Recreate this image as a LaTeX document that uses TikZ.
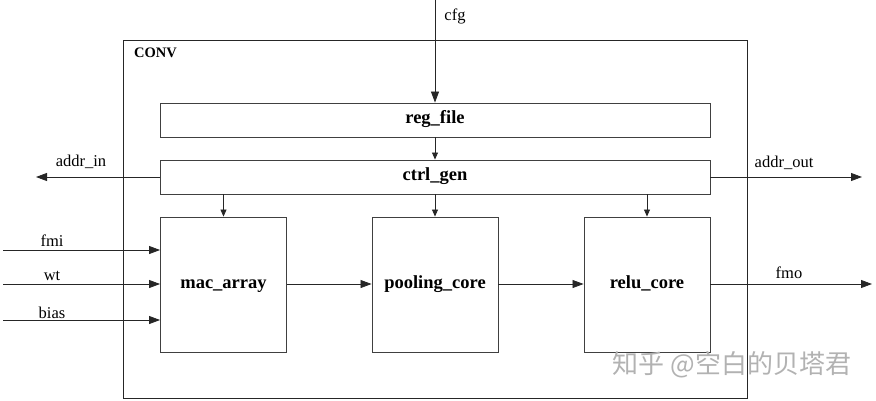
\documentclass[tikz,border=0pt]{standalone}
\usepackage{fontspec}
\setmainfont{Liberation Serif}
\newfontfamily\cjk{Noto Sans CJK SC}
\usetikzlibrary{arrows.meta}
\begin{document}
\begin{tikzpicture}[x=1pt,y=-1pt,
  blk/.style={draw=black!75,line width=0.9pt,inner sep=0pt,text height=0.9em,text depth=0.13em,font=\fontsize{18.5}{20}\selectfont\bfseries},
  sig/.style={draw=black!85,line width=0.8pt,-{Triangle[length=11pt,width=8pt]}},
  small/.style={draw=black!85,line width=0.8pt,-{Triangle[length=7pt,width=6pt]}},
  lab/.style={font=\fontsize{16.5}{18}\selectfont,inner sep=0pt}]
\useasboundingbox (0,0) rectangle (876,400);
\node[draw=black!85,line width=0.9pt,minimum width=624pt,minimum height=358pt,anchor=north west,inner sep=0pt] (conv) at (123,40) {};
\node[anchor=north west,inner sep=0pt,font=\fontsize{14.5}{16}\selectfont\bfseries] (convlab) at (134,48) {CONV};
\node[blk,minimum width=550pt,minimum height=34pt] (reg) at (435,120) {reg\_file};
\node[blk,minimum width=550pt,minimum height=34pt] (ctrl) at (435,177) {ctrl\_gen};
\node[blk,minimum width=126pt,minimum height=135pt] (mac) at (223.5,284.5) {mac\_array};
\node[blk,minimum width=126pt,minimum height=135pt] (pool) at (435,284.5) {pooling\_core};
\node[blk,minimum width=126pt,minimum height=135pt] (relu) at (647,284.5) {relu\_core};
\coordinate (cfgs) at (435,0);
\coordinate (ain) at (36,177);
\coordinate (aout) at (862,177);
\coordinate (fmis) at (3,250);
\coordinate (wts) at (3,284);
\coordinate (biass) at (3,320);
\coordinate (fmoe) at (872,284);
\draw[sig] (cfgs) -- (reg.north);
\draw[small] (reg.south) -- (ctrl.north);
\draw[small] (ctrl.south -| mac) -- (mac.north);
\draw[small] (ctrl.south) -- (pool.north);
\draw[small] (ctrl.south -| relu) -- (relu.north);
\draw[sig] (ctrl.west) -- (ain);
\draw[sig] (ctrl.east) -- (aout);
\draw[sig] (fmis) -- (fmis -| mac.west);
\draw[sig] (wts) -- (wts -| mac.west);
\draw[sig] (biass) -- (biass -| mac.west);
\draw[sig] (mac.east |- wts) -- (pool.west |- wts);
\draw[sig] (pool.east |- wts) -- (relu.west |- wts);
\draw[sig] (relu.east |- wts) -- (fmoe);
\node[lab] (cfgl) at (455,16) {cfg};
\node[lab] (ainl) at (81,162) {addr\_in};
\node[lab] (aoutl) at (784,163) {addr\_out};
\node[lab] (fmil) at (52,241) {fmi};
\node[lab] (wtl) at (52,276) {wt};
\node[lab] (biasl) at (52,313) {bias};
\node[lab] (fmol) at (789,273) {fmo};
\node[font=\cjk\fontsize{26}{28}\selectfont,text=black!30,inner sep=0pt] (wm) at (732,365) {知乎 @空白的贝塔君};
\end{tikzpicture}
\end{document}
